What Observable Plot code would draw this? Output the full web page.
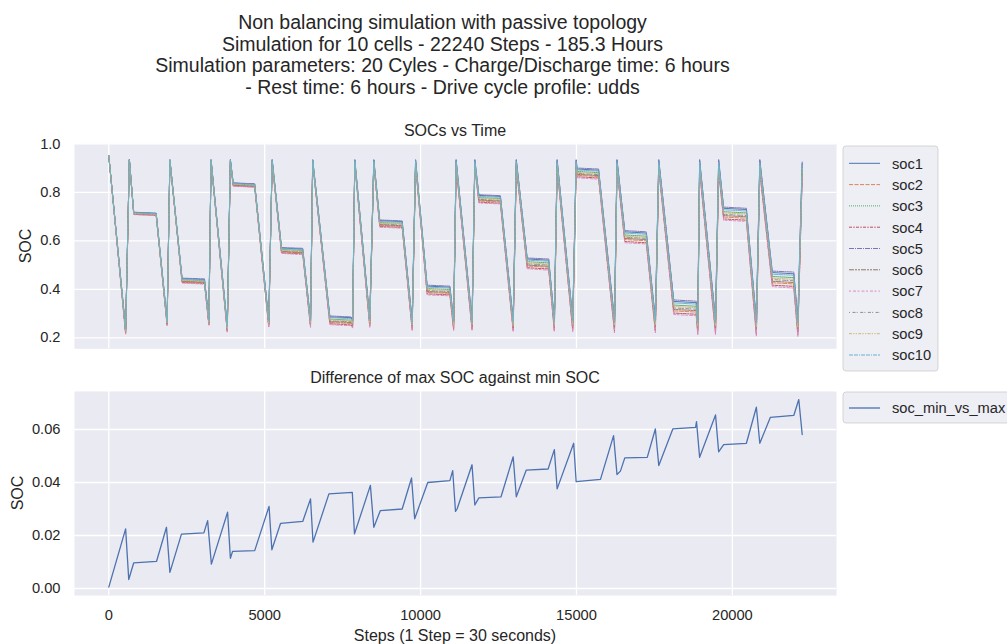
<!DOCTYPE html>
<html>
<head>
<meta charset="utf-8">
<script src="https://cdn.jsdelivr.net/npm/d3@7"></script>
<script src="https://cdn.jsdelivr.net/npm/@observablehq/plot@0.6"></script>
<style>
  html, body { margin: 0; padding: 0; background: #fff; }
  #fig { position: relative; width: 1007px; height: 644px; overflow: hidden; background: #fff; }
  #fig svg { position: absolute; left: 0; }
</style>
</head>
<body>
<div id="fig"></div>
<script>
// ---- Simulation output: cell SOC traces (step index, 1 step = 30 s) ----
const steps = [0,540,660,800,1520,1870,1960,2350,3070,3210,3280,3800,3900,3990,4680,5130,5240,5540,6220,6470,6540,7090,7770,7820,7890,8370,8500,8690,9410,9730,9840,10210,10940,11060,11140,11650,11740,11870,12560,12970,13070,13420,14110,14290,14380,14880,14990,15020,15710,16220,16300,16550,17240,17530,17640,18120,18840,18890,18950,19460,19560,19720,20450,20770,20880,21280,21970,22100,22240];

const soc1 = [0.950,0.235,0.935,0.717,0.713,0.271,0.934,0.444,0.440,0.273,0.934,0.248,0.934,0.838,0.834,0.271,0.934,0.570,0.566,0.273,0.933,0.286,0.283,0.272,0.933,0.278,0.933,0.683,0.679,0.268,0.932,0.413,0.409,0.270,0.932,0.271,0.932,0.787,0.783,0.270,0.932,0.525,0.520,0.272,0.931,0.274,0.931,0.896,0.891,0.272,0.931,0.637,0.632,0.274,0.930,0.350,0.345,0.269,0.930,0.271,0.930,0.734,0.729,0.269,0.930,0.469,0.464,0.269,0.919];
const soc2 = [0.950,0.221,0.932,0.711,0.706,0.256,0.930,0.431,0.427,0.256,0.928,0.229,0.926,0.829,0.824,0.251,0.924,0.554,0.550,0.251,0.922,0.263,0.259,0.249,0.920,0.253,0.918,0.664,0.659,0.240,0.915,0.387,0.383,0.241,0.913,0.241,0.911,0.764,0.760,0.237,0.909,0.496,0.491,0.238,0.907,0.239,0.905,0.870,0.865,0.234,0.903,0.605,0.600,0.235,0.900,0.311,0.306,0.228,0.898,0.228,0.896,0.698,0.693,0.224,0.894,0.427,0.422,0.223,0.881];
const soc3 = [0.950,0.230,0.934,0.714,0.711,0.265,0.933,0.439,0.435,0.267,0.932,0.241,0.931,0.834,0.830,0.263,0.930,0.564,0.560,0.265,0.929,0.277,0.273,0.263,0.928,0.268,0.927,0.675,0.672,0.257,0.926,0.403,0.399,0.259,0.925,0.259,0.924,0.778,0.774,0.257,0.923,0.514,0.509,0.259,0.922,0.261,0.921,0.886,0.881,0.258,0.920,0.624,0.619,0.259,0.919,0.335,0.330,0.253,0.918,0.255,0.917,0.720,0.715,0.251,0.916,0.453,0.448,0.251,0.905];
const soc4 = [0.950,0.217,0.932,0.709,0.705,0.252,0.930,0.428,0.424,0.253,0.927,0.225,0.925,0.826,0.822,0.246,0.922,0.550,0.546,0.246,0.919,0.258,0.253,0.244,0.916,0.247,0.914,0.659,0.655,0.234,0.911,0.381,0.377,0.234,0.909,0.234,0.907,0.759,0.755,0.230,0.904,0.489,0.484,0.230,0.901,0.230,0.899,0.864,0.859,0.226,0.896,0.597,0.592,0.226,0.893,0.302,0.297,0.218,0.890,0.219,0.889,0.690,0.685,0.214,0.886,0.417,0.412,0.212,0.873];
const soc5 = [0.950,0.238,0.935,0.718,0.714,0.273,0.935,0.446,0.443,0.276,0.935,0.251,0.935,0.839,0.835,0.274,0.935,0.572,0.569,0.277,0.935,0.290,0.286,0.276,0.935,0.282,0.935,0.686,0.682,0.272,0.935,0.417,0.413,0.275,0.935,0.276,0.935,0.790,0.786,0.275,0.935,0.529,0.525,0.277,0.935,0.280,0.935,0.900,0.896,0.278,0.935,0.642,0.637,0.280,0.935,0.356,0.351,0.275,0.935,0.277,0.935,0.739,0.734,0.275,0.935,0.475,0.471,0.276,0.925];
const soc6 = [0.950,0.223,0.933,0.712,0.707,0.258,0.931,0.433,0.429,0.259,0.929,0.232,0.928,0.830,0.826,0.254,0.926,0.556,0.552,0.255,0.924,0.267,0.263,0.253,0.922,0.257,0.920,0.667,0.662,0.245,0.918,0.391,0.387,0.246,0.916,0.245,0.915,0.768,0.764,0.242,0.913,0.500,0.495,0.243,0.911,0.244,0.909,0.874,0.869,0.240,0.907,0.610,0.605,0.241,0.905,0.317,0.312,0.234,0.903,0.235,0.901,0.704,0.699,0.231,0.899,0.433,0.428,0.230,0.887];
const soc7 = [0.950,0.215,0.932,0.708,0.704,0.250,0.929,0.426,0.421,0.250,0.926,0.222,0.924,0.825,0.821,0.243,0.920,0.548,0.543,0.243,0.918,0.254,0.250,0.240,0.914,0.243,0.912,0.656,0.652,0.230,0.909,0.377,0.373,0.230,0.906,0.229,0.903,0.756,0.752,0.225,0.900,0.485,0.479,0.225,0.897,0.225,0.895,0.860,0.854,0.220,0.892,0.592,0.587,0.220,0.889,0.296,0.291,0.212,0.885,0.212,0.883,0.685,0.680,0.207,0.880,0.411,0.405,0.205,0.867];
const soc8 = [0.950,0.225,0.933,0.712,0.708,0.260,0.932,0.435,0.431,0.262,0.930,0.235,0.929,0.831,0.827,0.257,0.927,0.559,0.555,0.258,0.925,0.270,0.266,0.256,0.924,0.261,0.922,0.670,0.665,0.249,0.921,0.395,0.391,0.250,0.919,0.250,0.918,0.771,0.767,0.247,0.916,0.505,0.500,0.249,0.914,0.250,0.913,0.878,0.873,0.246,0.911,0.615,0.610,0.247,0.909,0.323,0.318,0.240,0.908,0.241,0.907,0.709,0.704,0.238,0.905,0.440,0.435,0.237,0.893];
const soc9 = [0.950,0.227,0.933,0.713,0.709,0.263,0.932,0.437,0.433,0.264,0.931,0.238,0.930,0.833,0.829,0.260,0.928,0.561,0.557,0.262,0.927,0.274,0.270,0.260,0.926,0.264,0.925,0.672,0.669,0.253,0.923,0.399,0.395,0.254,0.922,0.255,0.921,0.775,0.771,0.252,0.919,0.509,0.504,0.254,0.918,0.255,0.917,0.882,0.877,0.252,0.916,0.619,0.614,0.253,0.914,0.329,0.324,0.247,0.913,0.248,0.912,0.715,0.710,0.245,0.910,0.446,0.441,0.244,0.899];
const soc10 = [0.950,0.233,0.934,0.716,0.712,0.268,0.934,0.442,0.438,0.270,0.933,0.245,0.933,0.836,0.832,0.268,0.932,0.567,0.564,0.270,0.932,0.283,0.279,0.269,0.931,0.274,0.930,0.680,0.676,0.263,0.930,0.409,0.405,0.266,0.929,0.266,0.929,0.783,0.779,0.265,0.928,0.520,0.516,0.267,0.927,0.269,0.927,0.892,0.887,0.266,0.926,0.632,0.627,0.268,0.926,0.344,0.339,0.262,0.925,0.264,0.925,0.728,0.723,0.262,0.924,0.462,0.458,0.262,0.913];

// ---- Spread between the highest and lowest cell SOC ----
const diffSteps = [0,540,640,800,1530,1850,1960,2330,3050,3170,3290,3810,3900,3970,4680,5140,5230,5510,6220,6470,6550,7060,7810,7880,8390,8500,8710,9410,9710,9810,10230,10940,11030,11120,11170,11650,11740,11870,12580,12970,13070,13390,14090,14290,14380,14910,14990,15770,16190,16300,16410,16550,17270,17530,17640,18090,18820,18850,18950,19460,19560,19720,20450,20770,20880,21220,21970,22130,22240];
const diffValues = [0.0005,0.0225,0.0034,0.0097,0.0102,0.0231,0.0061,0.0205,0.0210,0.0256,0.0092,0.0288,0.0114,0.0140,0.0143,0.0310,0.0146,0.0246,0.0253,0.0338,0.0175,0.0357,0.0363,0.0206,0.0389,0.0231,0.0294,0.0300,0.0417,0.0263,0.0400,0.0407,0.0445,0.0291,0.0300,0.0467,0.0315,0.0342,0.0346,0.0497,0.0346,0.0447,0.0451,0.0524,0.0376,0.0548,0.0403,0.0412,0.0577,0.0430,0.0443,0.0493,0.0495,0.0602,0.0464,0.0602,0.0608,0.0630,0.0495,0.0655,0.0516,0.0543,0.0548,0.0684,0.0548,0.0646,0.0653,0.0713,0.0581];

// ---- Ticks and labels ----
const xTicks = [0, 5000, 10000, 15000, 20000];
const socTicks = [0.2, 0.4, 0.6, 0.8, 1.0];
const diffTicks = [0.00, 0.02, 0.04, 0.06];
const cells = ["soc1","soc2","soc3","soc4","soc5","soc6","soc7","soc8","soc9","soc10"];
const titleLines = [
  "Non balancing simulation with passive topology",
  "Simulation for 10 cells - 22240 Steps - 185.3 Hours",
  "Simulation parameters: 20 Cyles - Charge/Discharge time: 6 hours",
  "- Rest time: 6 hours - Drive cycle profile: udds"
];

// ---- Styling ----
const FONT = '"Liberation Sans", Arial, "DejaVu Sans", sans-serif';
const INK = "#262626";
const PANEL = "#eaeaf2";
const cellColors = ["#4c72b0","#dd8452","#55a868","#c44e52","#8172b3","#937860","#da8bc3","#8c8c8c","#ccb974","#64b5cd"];
const cellDashes = ["none","4,1.5","1,1","3,1.25,1.5,1.25","5,1,1,1","5,1,2,1,2,1","2,2,3,1.5","1,2.5,3,1.2","3,1.25,1.25,1.25,1.25,1.25","4,1,4,1,1,1"];
const socSeries = [soc1, soc2, soc3, soc4, soc5, soc6, soc7, soc8, soc9, soc10];

const socRows = cells.map((name, i) => steps.map((s, j) => ({cell: name, step: s, soc: socSeries[i][j]})));
const diffRows = diffSteps.map((s, j) => ({step: s, diff: diffValues[j]}));

const xDomain = [-1100, 23340];
const gridStyle = {stroke: "#ffffff", strokeOpacity: 1, strokeWidth: 1.3};
const svgStyle = {background: "none", fontFamily: FONT, fontSize: "14.67px", color: INK, overflow: "visible"};

const fig = document.getElementById("fig");

// Upper panel: every cell's SOC
const upper = Plot.plot({
  width: 1007, height: 240,
  marginLeft: 74, marginRight: 171, marginTop: 23.3, marginBottom: 11.7,
  style: svgStyle,
  x: {domain: xDomain, axis: null},
  y: {domain: [0.1546, 1.0], axis: null},
  marks: [
    Plot.frame({fill: PANEL, stroke: null}),
    Plot.gridX(xTicks, gridStyle),
    Plot.gridY(socTicks, gridStyle),
    Plot.axisY(socTicks, {tickSize: 0, tickPadding: 14, tickFormat: d => d.toFixed(1), label: null}),
    ...cells.map((name, i) => Plot.line(socRows[i], {
      x: "step", y: "soc", stroke: cellColors[i], strokeWidth: 1,
      strokeDasharray: cellDashes[i], strokeOpacity: 0.95
    }))
  ]
});
upper.style.top = "120px";
fig.appendChild(upper);

// Lower panel: max SOC minus min SOC
const lower = Plot.plot({
  width: 1007, height: 274,
  marginLeft: 74, marginRight: 171, marginTop: 21, marginBottom: 49,
  style: svgStyle,
  x: {domain: xDomain, axis: null},
  y: {domain: [-0.00264, 0.07434], axis: null},
  marks: [
    Plot.frame({fill: PANEL, stroke: null}),
    Plot.gridX(xTicks, gridStyle),
    Plot.gridY(diffTicks, gridStyle),
    Plot.axisY(diffTicks, {tickSize: 0, tickPadding: 14, tickFormat: d => d.toFixed(2), label: null}),
    Plot.axisX(xTicks, {tickSize: 0, tickPadding: 14, tickFormat: d => String(d), label: null}),
    Plot.line(diffRows, {x: "step", y: "diff", stroke: "#4c72b0", strokeWidth: 1.3})
  ]
});
lower.style.top = "370px";
fig.appendChild(lower);

// Titles, axis labels and legends
const ann = d3.select(fig).append("svg")
  .attr("width", 1007).attr("height", 644)
  .style("top", "0px")
  .style("font-family", FONT)
  .attr("fill", INK);

titleLines.forEach((t, i) => {
  ann.append("text").attr("x", 442.5).attr("y", 29 + i * 21.7)
    .attr("text-anchor", "middle").attr("font-size", 19.5).text(t);
});

ann.append("text").attr("x", 455).attr("y", 135.7).attr("text-anchor", "middle")
  .attr("font-size", 16).text("SOCs vs Time");
ann.append("text").attr("x", 455).attr("y", 382.7).attr("text-anchor", "middle")
  .attr("font-size", 16).text("Difference of max SOC against min SOC");
ann.append("text").attr("x", 455).attr("y", 640.5).attr("text-anchor", "middle")
  .attr("font-size", 16).text("Steps (1 Step = 30 seconds)");

ann.append("text").attr("transform", "translate(30.7,246) rotate(-90)")
  .attr("text-anchor", "middle").attr("font-size", 16).text("SOC");
ann.append("text").attr("transform", "translate(23.2,493) rotate(-90)")
  .attr("text-anchor", "middle").attr("font-size", 16).text("SOC");

// Legend for the cell traces
ann.append("rect").attr("x", 843).attr("y", 146).attr("width", 95).attr("height", 225)
  .attr("rx", 3).attr("fill", PANEL).attr("fill-opacity", 0.8)
  .attr("stroke", "#cccccc").attr("stroke-opacity", 0.8);
cells.forEach((name, i) => {
  const y = 163.3 + i * 21.3;
  ann.append("line").attr("x1", 849).attr("x2", 880).attr("y1", y).attr("y2", y)
    .attr("stroke", cellColors[i]).attr("stroke-width", 1)
    .attr("stroke-dasharray", cellDashes[i]);
  ann.append("text").attr("x", 892).attr("y", y + 5.3).attr("font-size", 14.67).text(name);
});

// Legend for the spread trace
ann.append("rect").attr("x", 843).attr("y", 392).attr("width", 180).attr("height", 31)
  .attr("rx", 3).attr("fill", PANEL).attr("fill-opacity", 0.8)
  .attr("stroke", "#cccccc").attr("stroke-opacity", 0.8);
ann.append("line").attr("x1", 849).attr("x2", 880).attr("y1", 408).attr("y2", 408)
  .attr("stroke", "#4c72b0").attr("stroke-width", 1.3);
ann.append("text").attr("x", 892).attr("y", 413.3).attr("font-size", 14.67).text("soc_min_vs_max");
</script>
</body>
</html>
